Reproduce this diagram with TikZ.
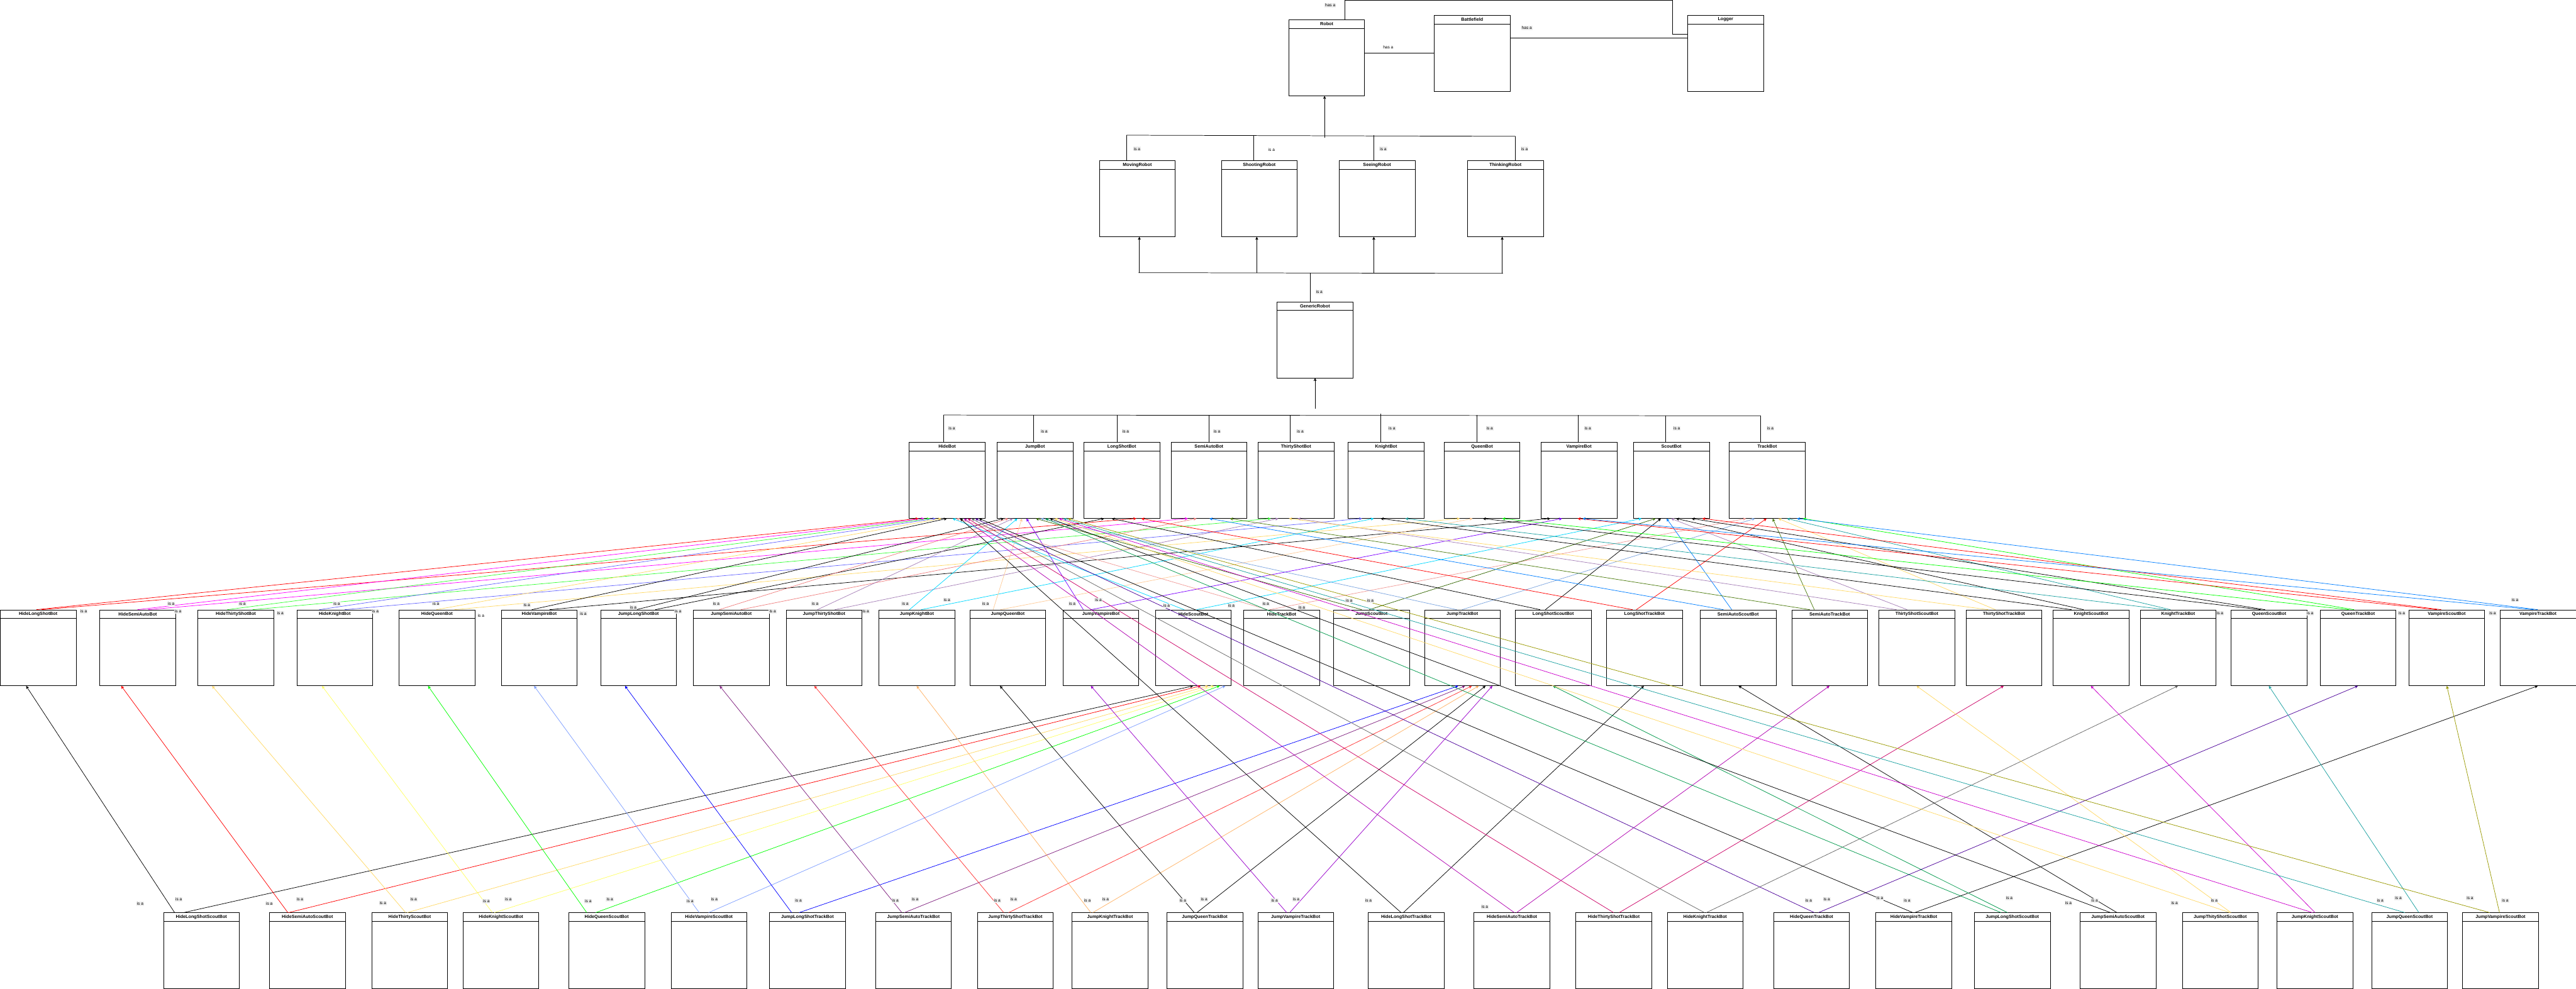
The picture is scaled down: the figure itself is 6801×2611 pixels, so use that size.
\documentclass[tikz,border=0pt]{standalone}
\usepackage{fontspec}
\setmainfont{Liberation Sans}
\usetikzlibrary{calc,arrows.meta}
\definecolor{cRed}{HTML}{FF0000}
\definecolor{cMag}{HTML}{FF00FF}
\definecolor{cGreen}{HTML}{33FF33}
\definecolor{cBlueL}{HTML}{6666FF}
\definecolor{cYel}{HTML}{FFD966}
\definecolor{cSalmon}{HTML}{F08080}
\definecolor{cLilac}{HTML}{A680B8}
\definecolor{cCyan}{HTML}{00D9FF}
\definecolor{cPeach}{HTML}{FFCC99}
\definecolor{cViolet}{HTML}{7F00FF}
\definecolor{cPink}{HTML}{F19C99}
\definecolor{cDkGreen}{HTML}{336600}
\definecolor{cSky}{HTML}{7EA6E0}
\definecolor{cAzure}{HTML}{007FFF}
\definecolor{cOlive}{HTML}{4D7C0F}
\definecolor{cTeal}{HTML}{1BA1A1}
\definecolor{cLime}{HTML}{00FF00}
\definecolor{cYelB}{HTML}{FFFF66}
\definecolor{cPeri}{HTML}{7F9FFF}
\definecolor{cBlue}{HTML}{0000FF}
\definecolor{cPlum}{HTML}{7F1F7F}
\definecolor{cRedB}{HTML}{FF3333}
\definecolor{cOrange}{HTML}{FFB366}
\definecolor{cPurple}{HTML}{9900CC}
\definecolor{cMagD}{HTML}{B000B0}
\definecolor{cCrimson}{HTML}{CC0066}
\definecolor{cGray}{HTML}{666666}
\definecolor{cIndigo}{HTML}{4C0099}
\definecolor{cSea}{HTML}{00994C}
\definecolor{cMagB}{HTML}{CC00CC}
\definecolor{cOliveB}{HTML}{999900}
\definecolor{labgray}{HTML}{EEEEEE}
\tikzset{
  clsbox/.style={draw=black, line width=0.35pt, fill=white, minimum width=2cm, minimum height=2cm, inner sep=0pt, anchor=north west},
  clsline/.style={draw=black, line width=0.35pt},
  clstitle/.style={font=\fontsize{3.4}{4}\selectfont\bfseries, inner sep=0pt},
  lab/.style={font=\fontsize{3.1}{3.7}\selectfont, fill=labgray, inner sep=0.5pt},
  labnb/.style={font=\fontsize{3.1}{3.7}\selectfont, inner sep=0.5pt},
  inh/.style={line width=0.35pt, -{Stealth[length=2.2pt,width=2.2pt,inset=0.5pt]}},
  plain/.style={line width=0.35pt, draw=black},
}
\newcounter{labc}
\newcommand{\mkclass}[4]{%
  \expandafter\xdef\csname L#1\endcsname{#2}%
  \node[clsbox] (#1) at (#2,#3) {};
  \draw[clsline] ($(#1.north west)+(0,23)$) -- ($(#1.north east)+(0,23)$);
  \node[clstitle] (#1t) at ($(#1.north)+(0,11.5)$) {#4};
}
\newcommand{\inh}[5]{%
  \pgfmathsetmacro{\offc}{#3-\csname L#2\endcsname}%
  \pgfmathsetmacro{\offp}{#5-\csname L#4\endcsname}%
  \draw[inh,draw=#1] ($(#2.north west)+(\offc,0)$) -- ($(#4.south west)+(\offp,0)$);
}
\newcommand{\isa}[2]{\stepcounter{labc}\node[lab] (lab\thelabc) at (#1,#2) {is a};}
\newcommand{\isanb}[2]{\stepcounter{labc}\node[labnb] (lab\thelabc) at (#1,#2) {is a};}
\begin{document}
\begin{tikzpicture}[x=0.01cm,y=-0.01cm]
\fill[white] (0,0) rectangle (6801,2611);
\useasboundingbox (0,0) rectangle (6801,2611);
% ---------- classes ----------
\mkclass{robot}{3402}{52}{Robot}
\mkclass{battle}{3786}{40}{Battlefield}
\mkclass{logger}{4455}{40}{Logger}
\mkclass{moving}{2902}{424}{MovingRobot}
\mkclass{shooting}{3224}{424}{ShootingRobot}
\mkclass{seeing}{3535}{424}{SeeingRobot}
\mkclass{thinking}{3874}{424}{ThinkingRobot}
\mkclass{generic}{3371}{797}{GenericRobot}
\mkclass{hideb}{2400}{1168}{HideBot}
\mkclass{jumpb}{2632}{1168}{JumpBot}
\mkclass{longb}{2861}{1168}{LongShotBot}
\mkclass{semib}{3091}{1168}{SemiAutoBot}
\mkclass{thirtyb}{3321}{1168}{ThirtyShotBot}
\mkclass{knightb}{3559}{1168}{KnightBot}
\mkclass{queenb}{3812}{1168}{QueenBot}
\mkclass{vampb}{4068}{1168}{VampireBot}
\mkclass{scoutb}{4312}{1168}{ScoutBot}
\mkclass{trackb}{4565}{1168}{TrackBot}
\mkclass{hlong}{0}{1610}{HideLongShotBot}
\mkclass{hsemi}{263}{1610}{HideSemiAutoBot}
\mkclass{hthirty}{522}{1610}{HideThirtyShotBot}
\mkclass{hknight}{783}{1610}{HideKnightBot}
\mkclass{hqueen}{1053}{1610}{HideQueenBot}
\mkclass{hvamp}{1323}{1610}{HideVampireBot}
\mkclass{jlong}{1585}{1610}{JumpLongShotBot}
\mkclass{jsemi}{1830}{1610}{JumpSemiAutoBot}
\mkclass{jthirty}{2075}{1610}{JumpThirtyShotBot}
\mkclass{jknight}{2320}{1610}{JumpKnightBot}
\mkclass{jqueen}{2560}{1610}{JumpQueenBot}
\mkclass{jvamp}{2806}{1610}{JumpVampireBot}
\mkclass{hscout}{3050}{1610}{HideScoutBot}
\mkclass{htrack}{3283}{1610}{HideTrackBot}
\mkclass{jscout}{3520}{1610}{JumpScoutBot}
\mkclass{jtrack}{3760}{1610}{JumpTrackBot}
\mkclass{lscout}{4000}{1610}{LongShotScoutBot}
\mkclass{ltrack}{4241}{1610}{LongShotTrackBot}
\mkclass{sscout}{4488}{1610}{SemiAutoScoutBot}
\mkclass{strack}{4730}{1610}{SemiAutoTrackBot}
\mkclass{tscout}{4960}{1610}{ThirtyShotScoutBot}
\mkclass{ttrack}{5190}{1610}{ThirtyShotTrackBot}
\mkclass{kscout}{5420}{1610}{KnightScoutBot}
\mkclass{ktrack}{5650}{1610}{KnightTrackBot}
\mkclass{qscout}{5890}{1610}{QueenScoutBot}
\mkclass{qtrack}{6125}{1610}{QueenTrackBot}
\mkclass{vscout}{6359}{1610}{VampireScoutBot}
\mkclass{vtrack}{6600}{1610}{VampireTrackBot}
\mkclass{hlsc}{431}{2410}{HideLongShotScoutBot}
\mkclass{hssc}{711}{2410}{HideSemiAutoScoutBot}
\mkclass{htsc}{981}{2410}{HideThirtyScoutBot}
\mkclass{hksc}{1222}{2410}{HideKnightScoutBot}
\mkclass{hqsc}{1501}{2410}{HideQueenScoutBot}
\mkclass{hvsc}{1771}{2410}{HideVampireScoutBot}
\mkclass{jltr}{2031}{2410}{JumpLongShotTrackBot}
\mkclass{jstr}{2311}{2410}{JumpSemiAutoTrackBot}
\mkclass{jttr}{2580}{2410}{JumpThirtyShotTrackBot}
\mkclass{jktr}{2830}{2410}{JumpKnightTrackBot}
\mkclass{jqtr}{3080}{2410}{JumpQueenTrackBot}
\mkclass{jvtr}{3320}{2410}{JumpVampireTrackBot}
\mkclass{hltr}{3612}{2410}{HideLongShotTrackBot}
\mkclass{hstr}{3891}{2410}{HideSemiAutoTrackBot}
\mkclass{httr}{4160}{2410}{HideThirtyShotTrackBot}
\mkclass{hktr}{4401}{2410}{HideKnightTrackBot}
\mkclass{hqtr}{4682}{2410}{HideQueenTrackBot}
\mkclass{hvtr}{4952}{2410}{HideVampireTrackBot}
\mkclass{jlsc}{5212}{2410}{JumpLongShotScoutBot}
\mkclass{jssc}{5491}{2410}{JumpSemiAutoScoutBot}
\mkclass{jtsc}{5761}{2410}{JumpThityShotScoutBot}
\mkclass{jksc}{6011}{2410}{JumpKnightScoutBot}
\mkclass{jqsc}{6261}{2410}{JumpQueenScoutBot}
\mkclass{jvsc}{6501}{2410}{JumpVampireScoutBot}
% ---------- has a ----------
\coordinate (hA1) at (3550,1);
\coordinate (hA2) at (4416,1);
\coordinate (hA3) at (4416,90);
\coordinate (y140) at (0,140);
\coordinate (y100) at (0,100);
\draw[plain] ($(robot.north west)+(148,0)$) -- (hA1) -- (hA2) -- (hA3) -- (hA3 -| logger.west);
\draw[plain] (y140 -| robot.east) -- (y140 -| battle.west);
\draw[plain] (y100 -| battle.east) -- (y100 -| logger.west);
\node[lab] (has1) at (3512,14) {has a};
\node[labnb] (has2) at (3665,125) {has a};
\node[lab] (has3) at (4031,74) {has a};
% ---------- level 2 -> Robot ----------
\coordinate (b2a) at (2974,357);
\coordinate (b2b) at (4001,360);
\draw[plain] (b2a) -- (b2b);
\draw[plain] ($(moving.north west)+(72,0)$) coordinate (m2) -- (m2 |- b2a);
\draw[plain] ($(shooting.north west)+(86,0)$) coordinate (s2) -- (s2 |- b2a);
\draw[plain] ($(seeing.north west)+(92,0)$) coordinate (e2) -- (e2 |- b2a);
\draw[plain] ($(thinking.north west)+(127,0)$) coordinate (t2) -- (t2 |- b2b);
\coordinate (r2) at (3497,363);
\draw[inh,draw=black] (r2) -- (r2 |- robot.south);
\isa{3002}{393}
\isanb{3357}{395}
\isa{3652}{393}
\isa{4025}{393}
% ---------- GenericRobot -> level 2 ----------
\coordinate (b3a) at (3006,720);
\coordinate (b3b) at (3968,722);
\draw[plain] (b3a) -- (b3b);
\draw[plain] ($(generic.north west)+(88,0)$) coordinate (g3) -- (g3 |- b3a);
\coordinate (m3) at (3008,720);
\coordinate (s3) at (3318,721);
\coordinate (e3) at (3627,721);
\coordinate (t3) at (3966,722);
\draw[inh,draw=black] (m3) -- (m3 |- moving.south);
\draw[inh,draw=black] (s3) -- (s3 |- shooting.south);
\draw[inh,draw=black] (e3) -- (e3 |- seeing.south);
\draw[inh,draw=black] (t3) -- (t3 |- thinking.south);
\isa{3483}{771}
% ---------- level 4 -> GenericRobot ----------
\coordinate (b4a) at (2491,1096);
\coordinate (b4b) at (4648,1098);
\draw[plain] (b4a) -- (b4b);
\draw[plain] ($(hideb.north west)+(91,0)$) coordinate (d1) -- (d1 |- b4a);
\draw[plain] ($(jumpb.north west)+(97,0)$) coordinate (d2) -- (d2 |- b4a);
\draw[plain] ($(longb.north west)+(88,0)$) coordinate (d3) -- (d3 |- b4a);
\draw[plain] ($(semib.north west)+(101,0)$) coordinate (d4) -- (d4 |- b4a);
\draw[plain] ($(thirtyb.north west)+(85,0)$) coordinate (d5) -- (d5 |- b4a);
\draw[plain] ($(knightb.north west)+(86,0)$) coordinate (d6) -- ++(0,-76);
\draw[plain] ($(queenb.north west)+(88,0)$) coordinate (d7) -- (d7 |- b4a);
\draw[plain] ($(vampb.north west)+(99,0)$) coordinate (d8) -- (d8 |- b4a);
\draw[plain] ($(scoutb.north west)+(86,0)$) coordinate (d9) -- (d9 |- b4b);
\draw[plain] ($(trackb.north west)+(83,0)$) coordinate (d10) -- (d10 |- b4b);
\coordinate (g4) at (3472,1080);
\draw[inh,draw=black] (g4) -- (g4 |- generic.south);
\isa{2513}{1131}
\isa{2757}{1139}
\isa{2972}{1139}
\isa{3213}{1139}
\isa{3433}{1139}
\isa{3675}{1131}
\isa{3933}{1131}
\isa{4192}{1131}
\isa{4427}{1131}
\isa{4674}{1131}
% ---------- row 5 -> row 4 ----------
\inh{cRed}{hlong}{96}{hideb}{2425}
\inh{cRed}{hlong}{110}{longb}{3000}
\inh{cMag}{hsemi}{363}{hideb}{2440}
\inh{cMag}{hsemi}{391}{semib}{3136}
\inh{cGreen}{hthirty}{600}{hideb}{2455}
\inh{cGreen}{hthirty}{667}{thirtyb}{3355}
\inh{cBlueL}{hknight}{843}{hideb}{2470}
\inh{cBlueL}{hknight}{910}{knightb}{3596}
\inh{cYel}{hqueen}{1152}{hideb}{2485}
\inh{cYel}{hqueen}{1200}{queenb}{3854}
\inh{black}{hvamp}{1404}{hideb}{2500}
\inh{black}{hvamp}{1451}{vampb}{4093}
\inh{black}{jlong}{1680}{jumpb}{2650}
\inh{black}{jlong}{1730}{longb}{2915}
\inh{cSalmon}{jsemi}{1899}{jumpb}{2662}
\inh{cSalmon}{jsemi}{1956}{semib}{3159}
\inh{cLilac}{jthirty}{2158}{jumpb}{2674}
\inh{cLilac}{jthirty}{2204}{thirtyb}{3375}
\inh{cCyan}{jknight}{2401}{jumpb}{2686}
\inh{cCyan}{jknight}{2432}{knightb}{3627}
\inh{cPeach}{jqueen}{2622}{jumpb}{2698}
\inh{cPeach}{jqueen}{2641}{queenb}{3888}
\inh{cViolet}{jvamp}{2860}{jumpb}{2710}
\inh{cViolet}{jvamp}{2880}{vampb}{4124}
\inh{cCyan}{hscout}{3126}{hideb}{2515}
\inh{cCyan}{hscout}{3159}{scoutb}{4334}
\inh{cPink}{htrack}{3346}{hideb}{2525}
\inh{cPink}{htrack}{3352}{trackb}{4610}
\inh{cDkGreen}{jscout}{3595}{jumpb}{2735}
\inh{cDkGreen}{jscout}{3615}{scoutb}{4371}
\inh{cSky}{jtrack}{3846}{jumpb}{2748}
\inh{cSky}{jtrack}{3860}{trackb}{4633}
\inh{black}{lscout}{4066}{longb}{2935}
\inh{black}{lscout}{4080}{scoutb}{4385}
\inh{cRed}{ltrack}{4310}{longb}{3013}
\inh{cRed}{ltrack}{4320}{trackb}{4664}
\inh{cAzure}{sscout}{4550}{semib}{3193}
\inh{cAzure}{sscout}{4572}{scoutb}{4400}
\inh{cOlive}{strack}{4778}{semib}{3247}
\inh{cOlive}{strack}{4790}{trackb}{4680}
\inh{cLilac}{tscout}{5007}{thirtyb}{3426}
\inh{cLilac}{tscout}{5035}{scoutb}{4412}
\inh{cYel}{ttrack}{5249}{thirtyb}{3403}
\inh{cYel}{ttrack}{5268}{trackb}{4695}
\inh{black}{kscout}{5469}{knightb}{3645}
\inh{black}{kscout}{5501}{scoutb}{4425}
\inh{cTeal}{ktrack}{5718}{knightb}{3710}
\inh{cTeal}{ktrack}{5730}{trackb}{4718}
\inh{black}{qscout}{5968}{queenb}{3915}
\inh{black}{qscout}{5980}{scoutb}{4466}
\inh{cLime}{qtrack}{6201}{queenb}{3966}
\inh{cLime}{qtrack}{6215}{trackb}{4760}
\inh{cRed}{vscout}{6434}{vampb}{4165}
\inh{cRed}{vscout}{6445}{scoutb}{4494}
\inh{cAzure}{vtrack}{6689}{vampb}{4178}
\inh{cAzure}{vtrack}{6700}{trackb}{4744}
% ---------- row 6 -> rows 5/4 ----------
\inh{black}{hlsc}{461}{hlong}{69}
\inh{black}{hlsc}{485}{hscout}{3150}
\inh{cRed}{hssc}{760}{hsemi}{320}
\inh{cRed}{hssc}{762}{hscout}{3170}
\inh{cYel}{htsc}{1071}{hthirty}{560}
\inh{cYel}{htsc}{1075}{hscout}{3190}
\inh{cYelB}{hksc}{1300}{hknight}{850}
\inh{cYelB}{hksc}{1305}{hscout}{3205}
\inh{cLime}{hqsc}{1549}{hqueen}{1130}
\inh{cLime}{hqsc}{1573}{hscout}{3220}
\inh{cPeri}{hvsc}{1846}{hvamp}{1410}
\inh{cPeri}{hvsc}{1871}{hscout}{3235}
\inh{cBlue}{jltr}{2090}{jlong}{1650}
\inh{cBlue}{jltr}{2110}{jtrack}{3850}
\inh{cPlum}{jstr}{2381}{jsemi}{1900}
\inh{cPlum}{jstr}{2388}{jtrack}{3868}
\inh{cRedB}{jttr}{2650}{jthirty}{2150}
\inh{cRedB}{jttr}{2663}{jtrack}{3886}
\inh{cOrange}{jktr}{2880}{jknight}{2420}
\inh{cOrange}{jktr}{2885}{jtrack}{3904}
\inh{black}{jqtr}{3153}{jqueen}{2640}
\inh{black}{jqtr}{3160}{jtrack}{3922}
\inh{cPurple}{jvtr}{3397}{jvamp}{2880}
\inh{cPurple}{jvtr}{3405}{jtrack}{3940}
\inh{black}{hltr}{3699}{hideb}{2535}
\inh{black}{hltr}{3705}{ltrack}{4340}
\inh{cMagD}{hstr}{3998}{hideb}{2545}
\inh{cMagD}{hstr}{4004}{strack}{4830}
\inh{cCrimson}{httr}{4260}{hideb}{2555}
\inh{cCrimson}{httr}{4275}{ttrack}{5290}
\inh{cGray}{hktr}{4500}{hideb}{2565}
\inh{cGray}{hktr}{4505}{ktrack}{5750}
\inh{cIndigo}{hqtr}{4790}{hideb}{2575}
\inh{cIndigo}{hqtr}{4801}{qtrack}{6225}
\inh{black}{hvtr}{5050}{hideb}{2585}
\inh{black}{hvtr}{5055}{vtrack}{6700}
\inh{cSea}{jlsc}{5283}{jumpb}{2760}
\inh{cSea}{jlsc}{5300}{lscout}{4100}
\inh{black}{jssc}{5572}{jumpb}{2772}
\inh{black}{jssc}{5589}{sscout}{4590}
\inh{cYel}{jtsc}{5887}{jumpb}{2784}
\inh{cYel}{jtsc}{5890}{tscout}{5060}
\inh{cMagB}{jksc}{6105}{jumpb}{2796}
\inh{cMagB}{jksc}{6112}{kscout}{5520}
\inh{cTeal}{jqsc}{6349}{jumpb}{2808}
\inh{cTeal}{jqsc}{6386}{qscout}{5990}
\inh{cOliveB}{jvsc}{6573}{jumpb}{2820}
\inh{cOliveB}{jvsc}{6599}{vscout}{6460}
% ---------- is a labels, row 5 band ----------
\isa{221}{1614}\isa{452}{1595}\isa{470}{1614}\isa{640}{1595}\isa{740}{1619}
\isa{889}{1595}\isa{991}{1614}\isa{1151}{1594}\isanb{1270}{1625}\isa{1391}{1598}
\isa{1540}{1620}\isa{1672}{1604}\isa{1790}{1614}\isa{1891}{1595}\isa{2040}{1614}
\isa{2152}{1595}\isa{2286}{1614}\isa{2390}{1595}\isa{2500}{1584}\isa{2602}{1595}
\isa{2831}{1595}\isa{2900}{1584}\isa{3080}{1600}\isa{3251}{1600}\isa{3342}{1595}
\isa{3437}{1604}\isa{3562}{1586}\isa{3618}{1586}\isa{5861}{1619}\isa{6099}{1619}
\isa{6341}{1619}\isa{6581}{1619}\isa{6640}{1584}
% ---------- is a labels, row 6 band ----------
\isa{370}{2387}\isa{472}{2375}\isa{711}{2386}\isa{792}{2375}\isa{1011}{2385}
\isa{1092}{2375}\isa{1284}{2380}\isa{1342}{2375}\isa{1553}{2380}\isa{1610}{2375}
\isa{1822}{2380}\isa{1886}{2375}\isa{2108}{2378}\isa{2364}{2378}\isa{2416}{2375}
\isa{2633}{2378}\isa{2676}{2375}\isa{2871}{2378}\isa{2919}{2375}\isa{3123}{2378}
\isa{3179}{2375}\isa{3365}{2378}\isa{3422}{2375}\isa{3613}{2378}\isa{3920}{2395}
\isa{4775}{2378}\isa{4823}{2375}\isa{4963}{2372}\isa{5035}{2378}\isa{5305}{2372}
\isa{5461}{2385}\isa{5530}{2378}\isa{5741}{2385}\isa{5846}{2378}\isa{6284}{2378}
\isa{6332}{2372}\isa{6521}{2372}\isa{6614}{2378}
\end{tikzpicture}
\end{document}
